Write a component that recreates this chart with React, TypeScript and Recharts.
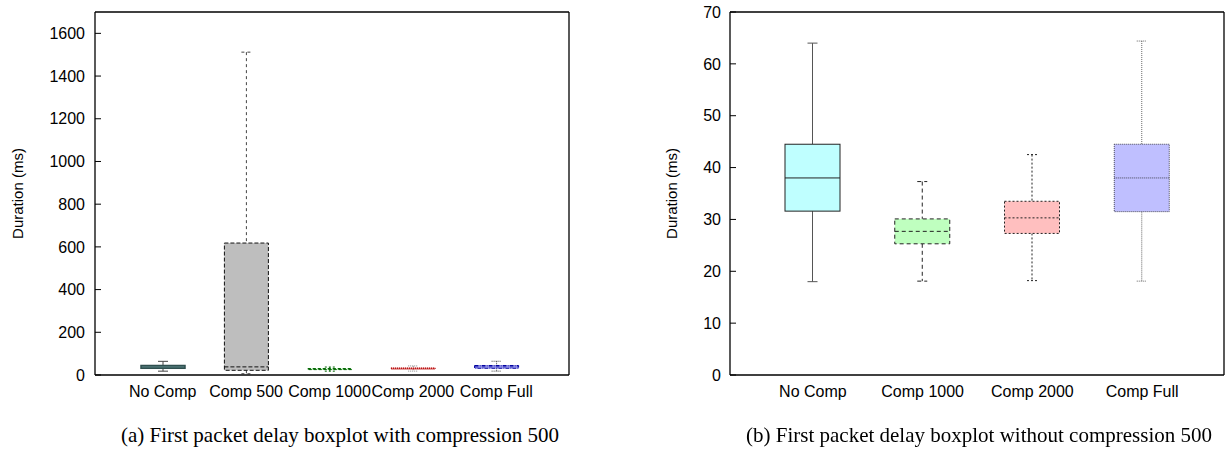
import { Bar, ComposedChart, ReferenceLine, XAxis, YAxis } from 'recharts'

// (a) with compression 500
const categoriesA = ['No Comp', 'Comp 500', 'Comp 1000', 'Comp 2000', 'Comp Full']
const minA = [18, 6, 18, 18.2, 18.1]
const q1A = [31.5, 22, 25.3, 27.3, 31.5]
const medianA = [38, 38, 27.7, 30.3, 38]
const q3A = [44.5, 618, 30.1, 33.5, 44.5]
const maxA = [64, 1512, 37.3, 42.5, 64.4]
const ticksA = [0, 200, 400, 600, 800, 1000, 1200, 1400, 1600]

// (b) without compression 500
const categoriesB = ['No Comp', 'Comp 1000', 'Comp 2000', 'Comp Full']
const minB = [18, 18.1, 18.2, 18.1]
const q1B = [31.6, 25.3, 27.3, 31.5]
const medianB = [38, 27.7, 30.3, 38]
const q3B = [44.5, 30.1, 33.5, 44.5]
const maxB = [64, 37.3, 42.5, 64.4]
const ticksB = [0, 10, 20, 30, 40, 50, 60, 70]

const rowsA = categoriesA.map((name, i) => ({
  name,
  min: minA[i],
  q1: q1A[i],
  median: medianA[i],
  q3: q3A[i],
  max: maxA[i],
  range: [minA[i], maxA[i]],
}))

const rowsB = categoriesB.map((name, i) => ({
  name,
  min: minB[i],
  q1: q1B[i],
  median: medianB[i],
  q3: q3B[i],
  max: maxB[i],
  range: [minB[i], maxB[i]],
}))

type BoxStyle = {
  fill: string
  stroke: string
  dash?: string
  whisker: string
  whiskerDash?: string
  width?: number
}

const stylesA: Record<string, BoxStyle> = {
  'No Comp': { fill: '#bfffff', stroke: '#2f4f4f', whisker: '#444', width: 1.5 },
  'Comp 500': { fill: '#bebebe', stroke: '#111', dash: '4 2', whisker: '#444', whiskerDash: '3 3' },
  'Comp 1000': { fill: '#bfffbf', stroke: '#006400', dash: '3 2', whisker: '#006400', whiskerDash: '2 2' },
  'Comp 2000': { fill: '#ffbfbf', stroke: '#b00000', dash: '1 1', whisker: '#888', whiskerDash: '1 1' },
  'Comp Full': { fill: '#bfbfff', stroke: '#0000a0', dash: '4 1 1 1', whisker: '#444', whiskerDash: '1 1' },
}

const stylesB: Record<string, BoxStyle> = {
  'No Comp': { fill: '#bfffff', stroke: '#222', whisker: '#555' },
  'Comp 1000': { fill: '#bfffbf', stroke: '#222', dash: '4 3', whisker: '#222', whiskerDash: '4 3' },
  'Comp 2000': { fill: '#ffbfbf', stroke: '#222', dash: '2 2', whisker: '#222', whiskerDash: '2 2' },
  'Comp Full': { fill: '#bfbfff', stroke: '#445', dash: '1 1', whisker: '#666', whiskerDash: '1 1' },
}

const sans = '"Liberation Sans", Arial, sans-serif'
const serif = '"Liberation Serif", "Times New Roman", serif'
const tickFont = { fontSize: 16, fontFamily: sans, fill: '#000' }

// the bar spans min..max; the box parts are placed along it linearly
function makeBoxShape(styles: Record<string, BoxStyle>) {
  return function BoxShape(props: any) {
    const { x, y, width, height, payload } = props
    const st = styles[payload.name]
    const k = height / (payload.max - payload.min)
    const yAt = (v: number) => y + (payload.max - v) * k
    const cx = x + width / 2
    const cap = 5
    const sw = st.width ?? 1
    return (
      <g>
        <line x1={cx} x2={cx} y1={yAt(payload.max)} y2={yAt(payload.q3)} stroke={st.whisker} strokeDasharray={st.whiskerDash} />
        <line x1={cx} x2={cx} y1={yAt(payload.q1)} y2={yAt(payload.min)} stroke={st.whisker} strokeDasharray={st.whiskerDash} />
        <line x1={cx - cap} x2={cx + cap} y1={yAt(payload.max)} y2={yAt(payload.max)} stroke={st.whisker} strokeDasharray={st.whiskerDash} />
        <line x1={cx - cap} x2={cx + cap} y1={yAt(payload.min)} y2={yAt(payload.min)} stroke={st.whisker} strokeDasharray={st.whiskerDash} />
        <rect
          x={x}
          y={yAt(payload.q3)}
          width={width}
          height={yAt(payload.q1) - yAt(payload.q3)}
          fill={st.fill}
          stroke={st.stroke}
          strokeWidth={sw}
          strokeDasharray={st.dash}
        />
        <line x1={x} x2={x + width} y1={yAt(payload.median)} y2={yAt(payload.median)} stroke={st.stroke} strokeWidth={sw} strokeDasharray={st.dash} />
      </g>
    )
  }
}

const ShapeA = makeBoxShape(stylesA)
const ShapeB = makeBoxShape(stylesB)

function BoxChart(props: {
  rows: any[]
  ticks: number[]
  top: number
  shape: any
  barSize: number
  padding: { left: number; right: number }
  axisWidth: number
  labelOffset: number
  tickMargin: number
  marginRight: number
}) {
  const { rows, ticks, top, shape, barSize, padding, axisWidth, labelOffset, tickMargin, marginRight } = props
  return (
    <ComposedChart width={600} height={410} data={rows} margin={{ top: 12, right: marginRight, bottom: 5, left: 0 }}>
      <XAxis
        dataKey='name'
        interval={0}
        padding={padding}
        tickLine={false}
        tickMargin={5}
        axisLine={{ stroke: '#000', strokeWidth: 1.3 }}
        tick={tickFont}
      />
      <YAxis
        type='number'
        domain={[0, top]}
        ticks={ticks}
        width={axisWidth}
        tickSize={-6}
        tickMargin={tickMargin}
        allowDataOverflow
        axisLine={{ stroke: '#000', strokeWidth: 1.3 }}
        tickLine={{ stroke: '#000' }}
        tick={tickFont}
        label={{
          value: 'Duration (ms)',
          angle: -90,
          position: 'insideLeft',
          offset: labelOffset,
          style: { textAnchor: 'middle', fontSize: 15, fontFamily: sans, fill: '#000' },
        }}
      />
      <YAxis
        yAxisId='r'
        orientation='right'
        type='number'
        domain={[0, top]}
        ticks={ticks}
        width={1}
        tickSize={-6}
        tick={false}
        allowDataOverflow
        axisLine={{ stroke: '#000', strokeWidth: 1.3 }}
        tickLine={{ stroke: '#000' }}
      />
      <ReferenceLine y={top} stroke='#000' strokeWidth={1.3} />
      <Bar dataKey='range' barSize={barSize} shape={shape} isAnimationActive={false} />
    </ComposedChart>
  )
}

export default function App() {
  return (
    <div style={{ position: 'fixed', left: 0, top: 0, width: 1232, height: 453, background: '#fff' }}>
      <div style={{ position: 'absolute', left: 0, top: 0 }}>
        <BoxChart
          rows={rowsA}
          ticks={ticksA}
          top={1700}
          shape={ShapeA}
          barSize={44}
          padding={{ left: 26, right: 31 }}
          axisWidth={95}
          labelOffset={18}
          tickMargin={16}
          marginRight={30}
        />
      </div>
      <div style={{ position: 'absolute', left: 632, top: 0 }}>
        <BoxChart
          rows={rowsB}
          ticks={ticksB}
          top={70}
          shape={ShapeB}
          barSize={55}
          padding={{ left: 28, right: 27 }}
          axisWidth={98}
          labelOffset={40}
          tickMargin={15}
          marginRight={7}
        />
      </div>
      <div style={{ position: 'absolute', left: 40, top: 423, width: 600, textAlign: 'center', fontFamily: serif, fontSize: 21 }}>
        (a) First packet delay boxplot with compression 500
      </div>
      <div style={{ position: 'absolute', left: 679, top: 423, width: 600, textAlign: 'center', fontFamily: serif, fontSize: 21 }}>
        (b) First packet delay boxplot without compression 500
      </div>
    </div>
  )
}
